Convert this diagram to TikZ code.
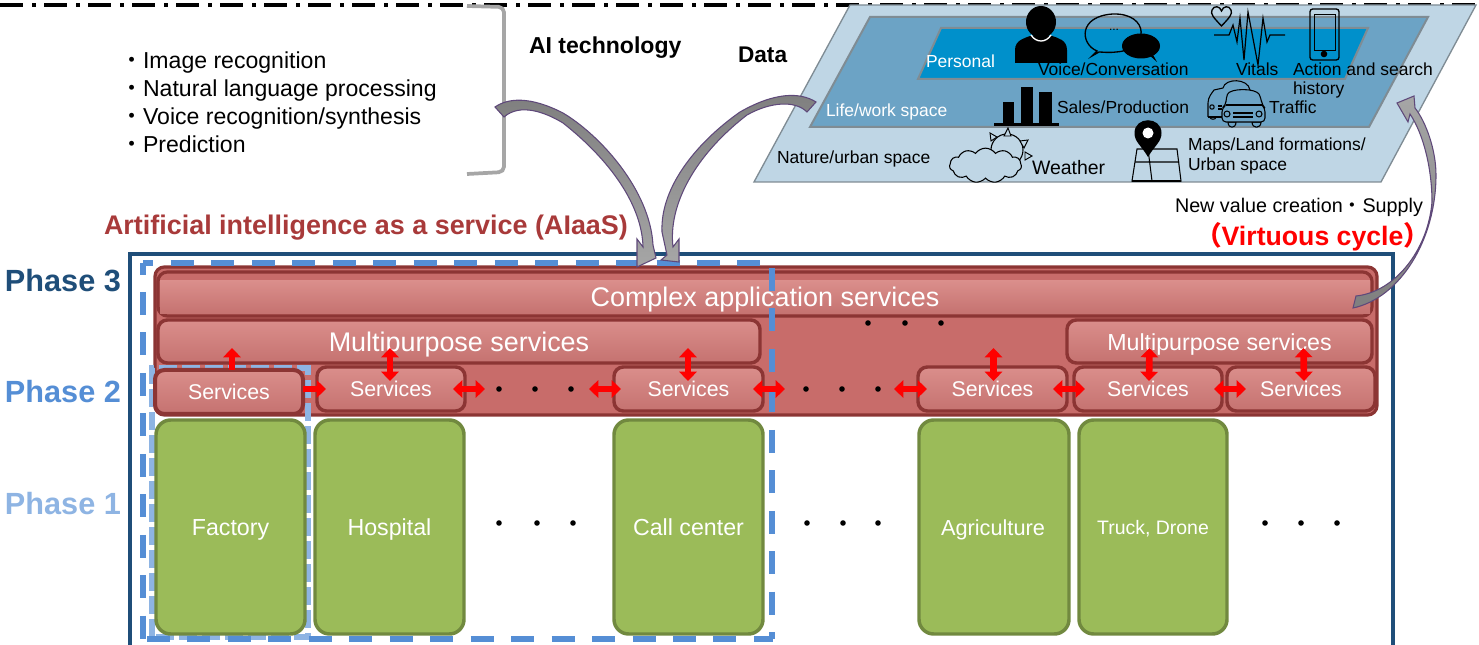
\documentclass[tikz,border=0pt]{standalone}
\usepackage{fontspec}
\setmainfont{Liberation Sans}
\newfontfamily\cjkf{Noto Sans CJK JP}
\usetikzlibrary{arrows.meta,shapes.symbols,calc}
\definecolor{navy}{HTML}{1F4E79}
\definecolor{phtwo}{HTML}{558ED5}
\definecolor{phone}{HTML}{8EB4E3}
\definecolor{redfill}{HTML}{C86C6A}
\definecolor{redline}{HTML}{8C3534}
\definecolor{redtop}{HTML}{DA8E8B}
\definecolor{redbot}{HTML}{C57270}
\definecolor{grn}{HTML}{9BBB59}
\definecolor{grnline}{HTML}{71893F}
\definecolor{titlered}{HTML}{A83A3A}
\definecolor{outerb}{HTML}{BFD6E5}
\definecolor{midb}{HTML}{6CA3C5}
\definecolor{innerb}{HTML}{0090CB}
\definecolor{para}{HTML}{7F8C94}
\definecolor{purp}{HTML}{5F497A}
\definecolor{brk}{HTML}{A6A6A6}
\definecolor{arrd}{HTML}{7F7F7F}
\definecolor{arrl}{HTML}{A6A6A6}
\tikzset{
  box/.style={draw,inner sep=0pt,outer sep=0pt,rounded corners=7pt,align=center},
  redbox/.style={box,draw=redline,line width=2.6pt,top color=redtop,bottom color=redbot,text=white},
  grnbox/.style={box,draw=grnline,line width=2.6pt,fill=grn,text=white,rounded corners=11pt},
  dotn/.style={circle,fill=black,inner sep=0pt,minimum size=4.2pt},
  redarr/.style={line width=5pt,red,{Triangle[length=7pt,width=13pt]}-{Triangle[length=7pt,width=13pt]}},
  redone/.style={line width=5pt,red,-{Triangle[length=7pt,width=13pt]}},
  lbl/.style={inner sep=0pt,outer sep=0pt,anchor=west},
  small/.style={font=\fontsize{13.1}{15}\selectfont},
  boxtxt/.style={text=white,inner sep=0pt,anchor=base},
  blockarr/.style={draw=purp,line width=.8pt,line join=miter},
  dashtwo/.style={phtwo,line width=4pt},
  dashone/.style={phone,line width=4pt,dash pattern=on 13.5pt off 3.75pt}
}
\newcommand{\bx}[6]{\node[#6,minimum width={(#4-#2)*.75pt},minimum height={(#5-#3)*.75pt}] (#1) at ({(#2+#4)/2},{(#3+#5)/2})}
\begin{document}
\begin{tikzpicture}[x=.75pt,y=-.75pt]
\useasboundingbox (0,0) rectangle (1479,645);
% top rule
\draw[black,line width=2.4pt,dash pattern=on 17pt off 7pt on 3pt off 6pt] (0,5) -- (1479,5);
% data parallelograms
\draw[draw=para,line width=1pt,fill=outerb] (850,5)--(1476,5)--(1381,182)--(754,182)--cycle;
\draw[draw=para,line width=1.5pt,fill=midb] (870,17)--(1428,17)--(1369,127)--(810,127)--cycle;
\draw[draw=para,line width=1.5pt,fill=innerb] (941,28)--(1368,28)--(1345,79)--(918,79)--cycle;
% person
\fill[black] (1041,22) ellipse (15 and 16);
\fill[black] (1015,63) -- (1015,50) .. controls (1015,40) and (1025,38) .. (1030,36) -- (1052,36) .. controls (1058,38) and (1067,40) .. (1067,50) -- (1067,63) -- cycle;
\draw[white,line width=1pt] (1031,35) .. controls (1036,43) and (1046,43) .. (1051,35);
% chat
\draw[black,line width=1pt] (1097,51) .. controls (1080,44) and (1078,16) .. (1113,14) .. controls (1150,13) and (1150,50) .. (1116,52) .. controls (1108,53) and (1103,52) .. (1099,52) -- (1092,56) -- cycle;
\fill[black] (1141,46) ellipse (19 and 12.5);
\fill[black] (1148,54) -- (1157,62) -- (1152,53) -- cycle;
\node[inner sep=0pt,font=\fontsize{9}{9}\selectfont] (chatdots) at (1114,30) {...};
% vitals
\draw[black,line width=1pt] (1221.5,26) .. controls (1214,18) and (1210,14) .. (1212,10) .. controls (1214,5) and (1220,6) .. (1221.5,11) .. controls (1223,6) and (1229,5) .. (1231,10) .. controls (1233,14) and (1229,18) .. (1221.5,26) -- cycle;
\draw[black,line width=.9pt] (1214,35)--(1229,35)--(1233,25)--(1237,42)--(1240,18)--(1244,60)--(1248,12)--(1258,65)--(1263,18)--(1267,42)--(1270,35)--(1285,35);
% phone
\draw[black,line width=1pt,rounded corners=2pt] (1310,9) rectangle (1339,60);
\draw[black,line width=.7pt] (1314,14) rectangle (1335,50);
\fill[black] (1324,54) circle (3.3);
% bars
\fill[black] (1002.5,102) rectangle (1014,124);
\fill[black] (1020.5,87) rectangle (1033,124);
\fill[black] (1039,92) rectangle (1052,124);
\draw[black,line width=1.6pt] (994,124.5) -- (1059,124.5);
% cars
\begin{scope}[black,line width=.8pt,line join=round]
\draw (1208,117) -- (1208,103) .. controls (1208,97) and (1212,93) .. (1214,90) -- (1223,88) .. controls (1225,78) and (1248,78) .. (1250,90);
\draw (1208,117) -- (1222,117);
\draw (1210,117) .. controls (1210,120) and (1216,120) .. (1216,117);
\draw (1212,107) circle (2.2);
\draw (1218,106) -- (1222,106) (1218,109) -- (1222,109);
\draw[fill=midb] (1228,122) .. controls (1228,129) and (1236,129) .. (1236,122) -- cycle;
\draw[fill=midb] (1252,122) .. controls (1252,129) and (1261,129) .. (1261,122) -- cycle;
\draw[rounded corners=3pt,fill=midb] (1222,122) -- (1222,108) -- (1226,105) -- (1226,98) .. controls (1230,88) and (1256,88) .. (1261,98) -- (1262,105) -- (1265,108) -- (1265,122) -- cycle;
\draw (1226,105) -- (1262,105);
\draw (1227,114) circle (3);
\draw (1259,114) circle (3);
\draw[line width=1.1pt] (1233,113) -- (1253,113) (1233,117) -- (1253,117);
\end{scope}
% pin and map
\draw[black,line width=.8pt] (1137,149)--(1177,149)--(1181,181)--(1132,181)--cycle;
\draw[black,line width=.8pt] (1135,162)--(1179,162) (1148,149)--(1152,181);
\draw[black,line width=1.2pt] (1132,181)--(1181,181);
\fill[black] (1148,157) .. controls (1141,145) and (1134.5,142) .. (1134.5,133) .. controls (1134.5,116) and (1161.5,116) .. (1161.5,133) .. controls (1161.5,142) and (1155,145) .. (1148,157) -- cycle;
\fill[white] (1148,133) circle (5.5);
% weather
\draw[black,line width=.8pt] (1007,150) circle (16);
\draw[black,line width=.7pt,fill=outerb] (990,133)--(997,137)--(991,141)--cycle;
\draw[black,line width=.7pt,fill=outerb] (1008,128)--(1011,136)--(1004,136)--cycle;
\draw[black,line width=.7pt,fill=outerb] (1028,140)--(1024,148)--(1020,141)--cycle;
\draw[black,line width=.7pt,fill=outerb] (1032,156)--(1025,160)--(1025,152)--cycle;
\node[cloud,draw=black,line width=.8pt,fill=outerb,cloud puffs=11,cloud puff arc=110,aspect=2,inner sep=0pt,minimum width=54pt,minimum height=26pt] (cloudicon) at (985.5,165.5) {};
% parallelogram labels
\node[lbl,small,text=white] (lp) at (926,61) {Personal};
\node[lbl,small] (lv) at (1038,69) {Voice/Conversation};
\node[lbl,small] (lvi) at (1236,69) {Vitals};
\node[lbl,small] (la) at (1293,69) {Action and search};
\node[lbl,small] (lh) at (1293,90) {history};
\node[lbl,small,text=white] (ll) at (826,112) {Life/work space};
\node[lbl,small] (ls) at (1057,107) {Sales/Production};
\node[lbl,small] (lt) at (1269,107) {Traffic};
\node[lbl,small] (ln) at (777,159) {Nature/urban space};
\node[lbl,font=\fontsize{14.6}{17}\selectfont] (lw) at (1032,168) {Weather};
\node[lbl,small] (lm) at (1188,146) {Maps/Land formations/};
\node[lbl,small] (lu) at (1188,166) {Urban space};
% left bracket and list
\draw[brk,line width=2.8pt,rounded corners=4pt] (467,6) -- (504,7) -- (504,172) -- (467,174);
\node[lbl,font=\fontsize{17.3}{20.9}\selectfont,align=left] (list) at (120,102) {{\cjkf ・}Image recognition\\{\cjkf ・}Natural language processing\\{\cjkf ・}Voice recognition/synthesis\\{\cjkf ・}Prediction};
\node[lbl,font=\bfseries\fontsize{17.3}{20}\selectfont] (ait) at (529,48) {AI technology};
\node[lbl,font=\bfseries\fontsize{17}{20}\selectfont] (dat) at (738,55) {Data};
\node[lbl,font=\bfseries\fontsize{20.2}{24}\selectfont,text=titlered] (title) at (104,228) {Artificial intelligence as a service (AIaaS)};
\node[lbl,font=\fontsize{14.8}{17}\selectfont] (nv) at (1175,207) {New value creation{\cjkf ・}Supply};
\node[lbl,font=\bfseries\fontsize{20}{24}\selectfont,text=red] (vc) at (1195,237) {{\cjkf （}Virtuous cycle{\cjkf ）}};
% phases
\node[lbl,font=\bfseries\fontsize{23}{26}\selectfont,text=navy] (p3) at (5,281) {Phase 3};
\node[lbl,font=\bfseries\fontsize{23}{26}\selectfont,text=phtwo] (p2) at (5,392) {Phase 2};
\node[lbl,font=\bfseries\fontsize{23}{26}\selectfont,text=phone] (p1) at (5,504) {Phase 1};
% frame
\draw[navy,line width=2.4pt] (130,648) -- (130,254) -- (1393,254) -- (1393,648);
% red platform
\bx{plat}{155}{267}{1377}{415}{box,draw=redline,line width=2.4pt,fill=redfill}{};
% phase 1 dashes lie under the green boxes
\draw[dashone] (152,637) -- (152,368) -- (308,368) -- (308,637) -- cycle;
% green boxes
\bx{g1}{156}{420}{305}{634}{grnbox}{};
\bx{g2}{315}{420}{464}{634}{grnbox}{};
\bx{g3}{614}{420}{763}{634}{grnbox}{};
\bx{g4}{919}{420}{1069}{634}{grnbox}{};
\bx{g5}{1079}{420}{1227}{634}{grnbox}{};
% services
\bx{cx}{158}{272}{1372}{316}{box,draw=redline,line width=2.4pt,fill=redfill}{};
\fill[top color=redtop,bottom color=redbot] (160,281) rectangle (1370,314);
\bx{ml}{158}{320}{760}{363}{redbox}{};
\bx{mr}{1067}{320}{1372}{363}{redbox}{};
\bx{s2}{317}{367}{465}{411}{redbox}{};
\bx{s3}{614}{367}{763}{411}{redbox}{};
\bx{s4}{918}{367}{1067}{411}{redbox}{};
\bx{s5}{1074}{367}{1222}{411}{redbox}{};
\bx{s6}{1227}{367}{1375}{411}{redbox}{};
% phase 2 dashes
\draw[dashtwo,dash pattern=on 17.25pt off 13.1pt,dash phase=9.4pt] (143,263) -- (773,263);
\draw[dashtwo,dash pattern=on 17.25pt off 13.1pt,dash phase=26.6pt] (772,263) -- (772,639);
\draw[dashtwo,dash pattern=on 17.25pt off 13.1pt,dash phase=27.4pt] (143,639) -- (773,639);
\draw[dashtwo,dash pattern=on 17.25pt off 13.1pt,dash phase=8.6pt] (143,263) -- (143,639);
\bx{s1}{155}{370}{303}{414}{redbox,line width=3pt}{};
% texts on boxes
\node[boxtxt,font=\fontsize{20.2}{24}\selectfont] at ($(cx.center)+(0,13)$) {Complex application services};
\node[boxtxt,font=\fontsize{20.2}{24}\selectfont] at ($(ml.center)+(0,10)$) {Multipurpose services};
\node[boxtxt,font=\fontsize{17.4}{20}\selectfont] at ($(mr.center)+(0,9)$) {Multipurpose services};
\foreach \n in {s1,s2,s3,s4,s5,s6}{\node[boxtxt,font=\fontsize{16}{18}\selectfont] at ($(\n.center)+(0,8)$) {Services};}
\node[boxtxt,font=\fontsize{17.4}{20}\selectfont] at ($(g1.center)+(0,8.5)$) {Factory};
\node[boxtxt,font=\fontsize{17.4}{20}\selectfont] at ($(g2.center)+(0,8.5)$) {Hospital};
\node[boxtxt,font=\fontsize{17.4}{20}\selectfont] at ($(g3.center)+(0,8.5)$) {Call center};
\node[boxtxt,font=\fontsize{16.3}{20}\selectfont] at ($(g4.center)+(-1,8)$) {Agriculture};
\node[boxtxt,font=\fontsize{14.6}{20}\selectfont] at ($(g5.center)+(0,7)$) {Truck, Drone};
% dots
\foreach \n/\x/\y in {a1/499/389,a2/535/389,a3/571/389,b1/806/389,b2/842/389,b3/878/389,c1/868/323,c2/905/323,c3/941/323,d1/499/523,d2/537/523,d3/573/523,e1/807/523,e2/843/523,e3/878/523,f1/1265/523,f2/1301/523,f3/1337/523}{\node[dotn] (\n) at (\x,\y) {};}
% red arrows
\draw[redone] ($(s1.east)+(0,-3)$) -- ($(s2.west)+(9,0)$);
\draw[redone] ($(s1.north)+(3,0)$) -- ($(ml.south)+(-227,-15)$);
\draw[redarr] ($(s2.north)+(-1,14)$) -- ($(ml.south)+(-69,-15)$);
\draw[redarr] ($(s3.north)+(-0.5,14)$) -- ($(ml.south)+(229,-15)$);
\draw[redarr] ($(s4.north)+(1,14)$) -- ($(s4.north)+(1,-19)$);
\draw[redarr] ($(s5.north)+(1,14)$) -- ($(mr.south)+(-70,-15)$);
\draw[redarr] ($(s6.north)+(3,14)$) -- ($(mr.south)+(84,-15)$);
\draw[redarr] ($(s2.east)+(-12,0)$) -- ($(a1.center)+(-14,0)$);
\draw[redarr] ($(a3.center)+(18,0)$) -- ($(s3.west)+(7,0)$);
\draw[redarr] ($(s3.east)+(-10,0)$) -- ($(b1.center)+(-21,0)$);
\draw[redarr] ($(b3.center)+(16,0)$) -- ($(s4.west)+(9,0)$);
\draw[redarr] ($(s4.east)+(-14,0)$) -- ($(s5.west)+(11,0)$);
\draw[redarr] ($(s5.east)+(-8,0)$) -- ($(s6.west)+(19,0)$);
% block arrows
\draw[blockarr,top color=arrd,bottom color=arrl] (495,107) .. controls (508,98) and (530,96) .. (563,113) .. controls (600,135) and (650,190) .. (653,245) -- (656,258) -- (637,267) -- (637,239) -- (643,247) .. controls (642,205) and (610,160) .. (563,123) .. controls (545,112) and (520,103) .. (504,117) -- cycle;
\draw[blockarr,top color=arrd,bottom color=arrl] (816,102) .. controls (800,92) and (775,92) .. (740,112) .. controls (700,140) and (660,185) .. (662,232) -- (667,255) -- (661,260) -- (679,262) -- (679,239) -- (673,247) .. controls (668,205) and (695,155) .. (747,115) .. controls (770,102) and (795,100) .. (807,112) -- cycle;
\draw[blockarr,top color=arrl,bottom color=arrd] (1353,308) .. controls (1400,298) and (1436,240) .. (1436,175) .. controls (1436,150) and (1426,122) .. (1415,108) -- (1414,96) -- (1397,103) -- (1408,122) -- (1410,114) .. controls (1424,135) and (1432,170) .. (1432,202) .. controls (1428,250) and (1395,292) .. (1356,296) -- cycle;
\end{tikzpicture}
\end{document}
